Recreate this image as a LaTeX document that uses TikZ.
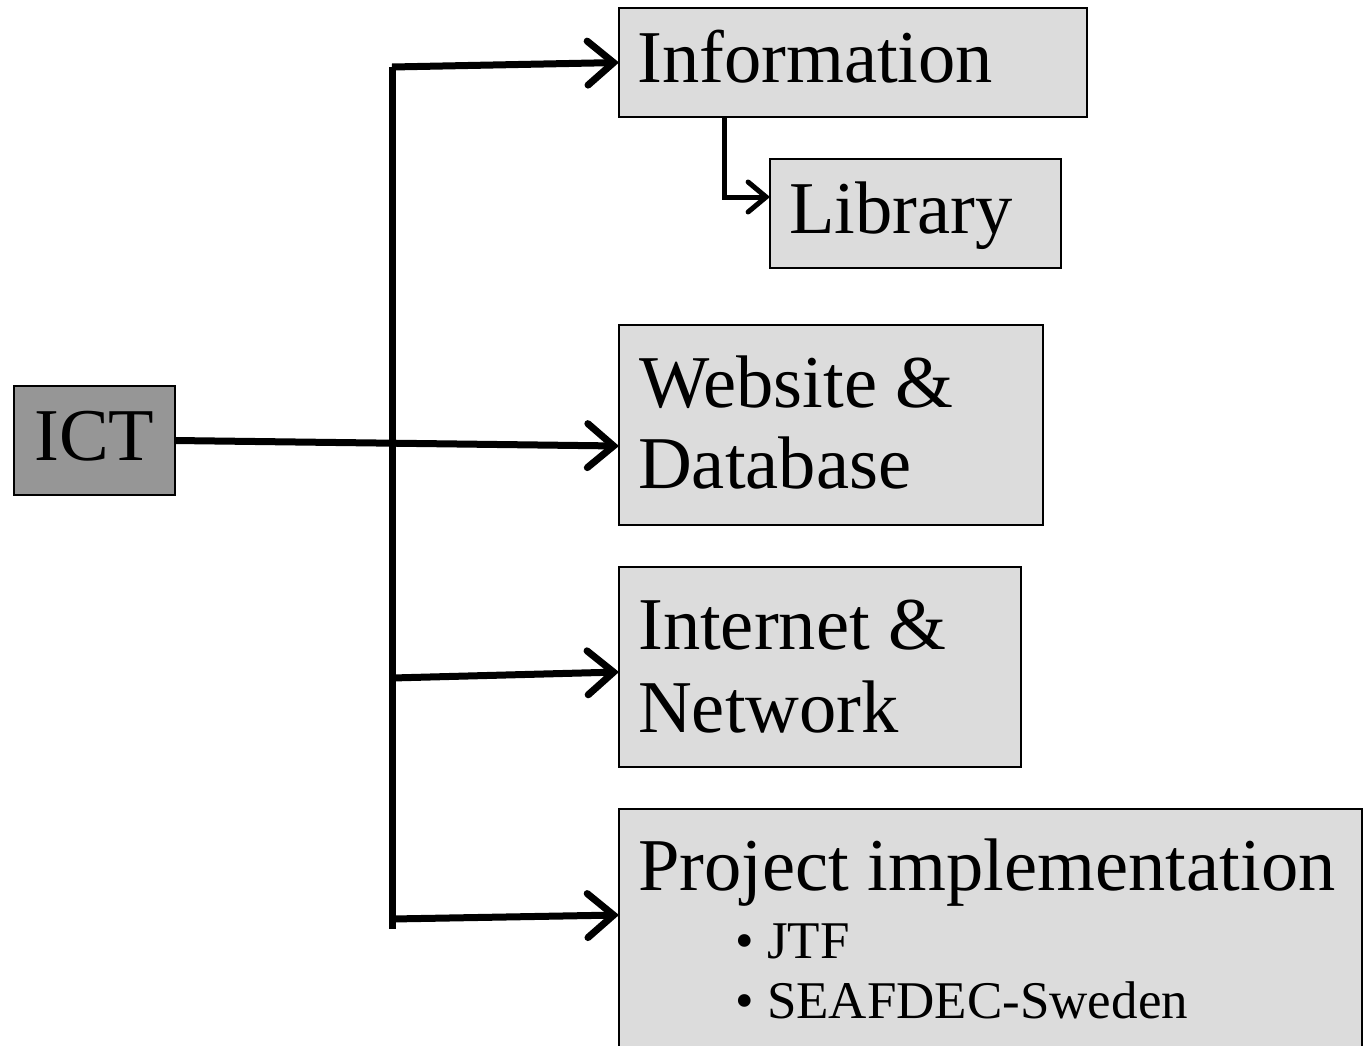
\documentclass[tikz,border=0pt]{standalone}
\usepackage{fontspec}
\setmainfont{Liberation Serif}
\usetikzlibrary{arrows.meta,calc}
\definecolor{boxgray}{RGB}{220,220,220}
\definecolor{ictgray}{RGB}{150,150,150}
\tikzset{
  boxnode/.style={draw=black, line width=1.4pt, fill=boxgray, anchor=north west, inner sep=0pt, outer sep=0pt},
  bigtext/.style={anchor=base west, inner sep=0pt, font=\fontsize{74.5}{80}\selectfont},
  smalltext/.style={anchor=base west, inner sep=0pt, font=\fontsize{53}{58}\selectfont},
  conn/.style={line width=7pt, line join=miter},
  bigarrow/.style={conn, -{Straight Barb[length=26pt, width=44pt, line cap=round]}},
  smallarrow/.style={line width=5pt, line join=miter, -{Straight Barb[length=18pt, width=30pt, line cap=round]}}
}
\begin{document}
\begin{tikzpicture}[x=1pt,y=1pt]
\useasboundingbox (0,0) rectangle (1366,-1045);
\clip (0,0) rectangle (1366,-1045);
% boxes
\node[boxnode, fill=ictgray, minimum width=161pt, minimum height=109pt] (ict) at (14,-386) {};
\node[boxnode, minimum width=468pt, minimum height=109pt] (info) at (619,-8) {};
\node[boxnode, minimum width=291pt, minimum height=109pt] (lib) at (770,-159) {};
\node[boxnode, minimum width=424pt, minimum height=200pt] (web) at (619,-325) {};
\node[boxnode, minimum width=402pt, minimum height=200pt] (net) at (619,-567) {};
\node[boxnode, minimum width=743pt, minimum height=260pt] (proj) at (619,-809) {};
% texts
\node[bigtext] (tict) at (34,-460) {ICT};
\node[bigtext] (tinfo) at (637,-82) {Information};
\node[bigtext] (tlib) at (789,-233) {Library};
\node[bigtext] (tweb1) at (639,-407) {Website \&};
\node[bigtext] (tweb2) at (638,-488) {Database};
\node[bigtext] (tnet1) at (638,-649) {Internet \&};
\node[bigtext] (tnet2) at (638,-732) {Network};
\node[bigtext] (tproj) at (638,-890) {Project implementation};
\node[smalltext] (tjtf) at (735,-958) {• JTF};
\node[smalltext] (tsea) at (735,-1018) {• SEAFDEC-Sweden};
% connectors
\coordinate (trunktop) at (392,-67);
\coordinate (trunkbot) at (392,-929);
\coordinate (br3) at (392,-678);
\coordinate (br4) at (392,-919);
\draw[conn] (trunktop) -- (trunkbot);
\draw[bigarrow] (trunktop) -- (info.west);
\draw[bigarrow] (ict.east) -- ($(web.north west)+(0,-121)$);
\draw[bigarrow] (br3) -- ($(net.north west)+(0,-105)$);
\draw[bigarrow] (br4) -- ($(proj.north west)+(0,-106)$);
\draw[smallarrow] ($(info.south west)+(105,0)$) |- ($(lib.north west)+(0,-38)$);
\end{tikzpicture}
\end{document}
